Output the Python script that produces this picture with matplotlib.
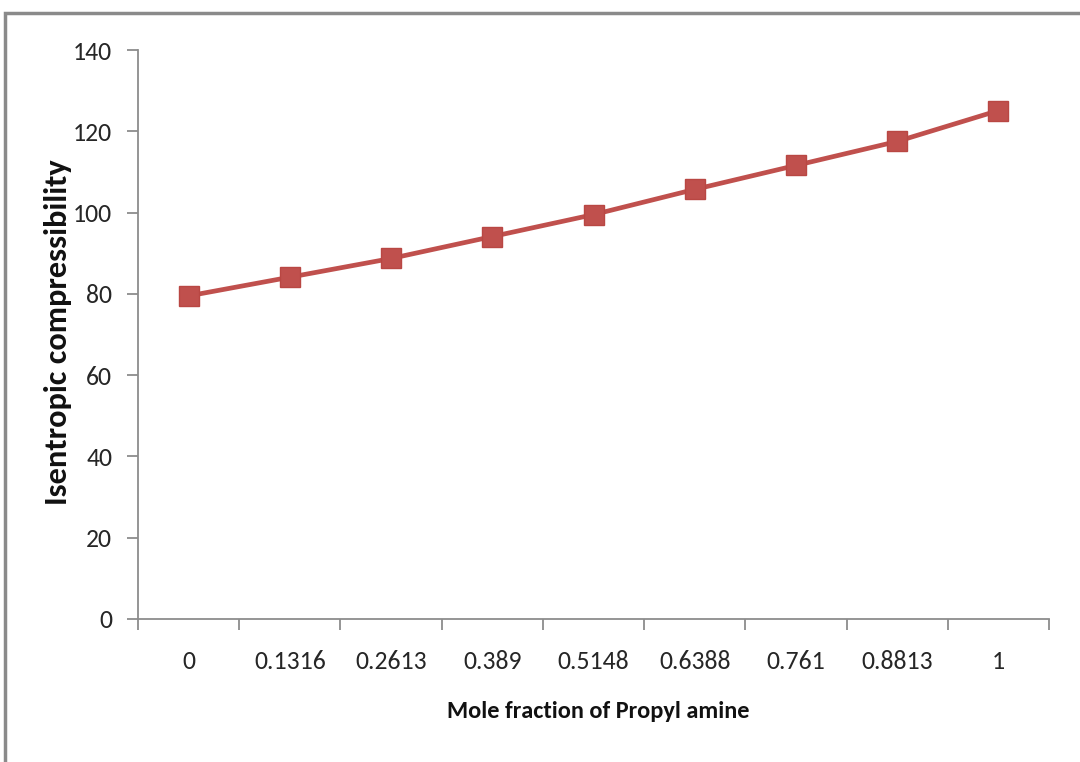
import matplotlib
matplotlib.use("Agg")
import matplotlib.pyplot as plt
from matplotlib.patches import Rectangle
from matplotlib import font_manager
import numpy as np

categories = ["0", "0.1316", "0.2613", "0.389", "0.5148", "0.6388", "0.761", "0.8813", "1"]
values = [79.5, 84.1, 88.7, 94.1, 99.5, 105.7, 111.6, 117.5, 125.1]
yticks = [0, 20, 40, 60, 80, 100, 120, 140]

names = {f.name for f in font_manager.fontManager.ttflist}
fam = next((n for n in ["Carlito", "Liberation Sans Narrow", "Liberation Sans"] if n in names), "DejaVu Sans")
plt.rcParams['font.family'] = [fam, 'DejaVu Sans']

fig = plt.figure(figsize=(10.8, 7.62), dpi=100)
fig.patches.append(Rectangle((5/1080, -0.1), 1.2, (762-13)/762 + 0.1, transform=fig.transFigure,
                             fill=False, edgecolor="#8a8a8a", linewidth=2.5))
ax = fig.add_axes([138/1080, (762-619)/762, (1049-138)/1080, (619-50)/762])

x = np.arange(len(categories))
ax.plot(x, values, color="#C0504D", lw=3.4, marker="s", markersize=14.5,
        markerfacecolor="#C0504D", markeredgecolor="#B94743", zorder=3)

ax.set_xlim(-0.5, len(categories) - 0.5)
ax.set_ylim(0, 140)
ax.set_yticks(yticks)
ax.set_xticks(x)
ax.set_xticklabels(categories)
ax.set_xticks(np.arange(-0.5, len(categories), 1.0), minor=True)

for s in ["top", "right"]:
    ax.spines[s].set_visible(False)
for s in ["left", "bottom"]:
    ax.spines[s].set_color("#8c8c8c")
    ax.spines[s].set_linewidth(1.3)

ax.tick_params(axis="x", which="major", length=0, pad=22.5, labelsize=18.5, colors="#262626")
ax.tick_params(axis="x", which="minor", length=8, width=1.3, color="#8c8c8c")
ax.tick_params(axis="y", which="major", length=8, width=1.3, color="#8c8c8c", pad=10.5,
               labelsize=18.5, labelcolor="#262626")

fig.text(598/1080, 1 - 718/762, "Mole fraction of Propyl amine", ha="center", va="baseline",
         fontsize=17.5, fontweight="bold", color="#111111")
fig.text(58/1080, 1 - 332/762, "Isentropic compressibility", ha="center", va="center",
         rotation=90, fontsize=23.3, fontweight="bold", color="#111111")

fig.savefig("out.png", dpi=100)
